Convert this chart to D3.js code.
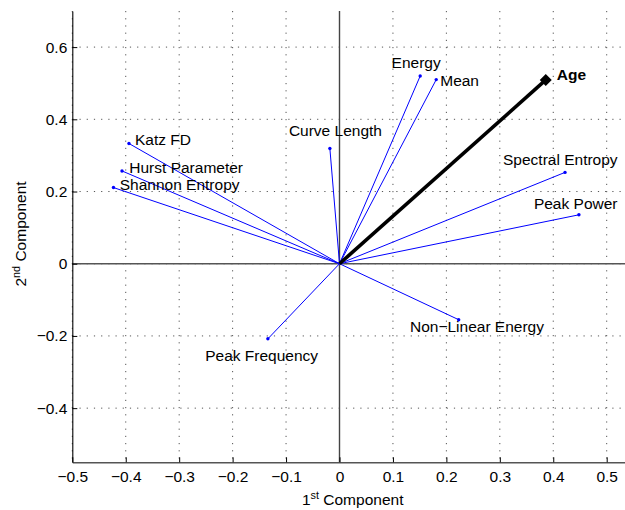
<!DOCTYPE html>
<html>
<head>
<meta charset="utf-8">
<script src="https://cdn.jsdelivr.net/npm/d3@7"></script>
<style>
  html, body { margin: 0; padding: 0; background: #fff; }
  svg { display: block; font-family: "Liberation Sans", Arial, Helvetica, sans-serif; }
</style>
</head>
<body>
<svg id="chart" width="625" height="510"></svg>
<script>
// ---- data ----
const variables = ["Age", "Energy", "Mean", "Curve Length", "Katz FD", "Hurst Parameter",
  "Shannon Entropy", "Spectral Entropy", "Peak Power", "Non\u2212Linear Energy", "Peak Frequency"];
const component1 = [0.386, 0.151, 0.181, -0.018, -0.394, -0.407, -0.423, 0.422, 0.448, 0.223, -0.134];
const component2 = [0.509, 0.520, 0.510, 0.319, 0.333, 0.257, 0.211, 0.253, 0.1355, -0.155, -0.208];
const highlighted = ["Age"];
const xTickValues = [-0.5, -0.4, -0.3, -0.2, -0.1, 0, 0.1, 0.2, 0.3, 0.4, 0.5];
const yTickValues = [-0.4, -0.2, 0, 0.2, 0.4, 0.6];
const xDomain = [-0.5, 0.55];
const yDomain = [-0.55, 0.7];

// ---- layout (label offsets in px from each point) ----
const labelOffset = {
  "Age": [11, 0],
  "Energy": [-28.6, -8],
  "Mean": [4, 6],
  "Curve Length": [-41, -12.7],
  "Katz FD": [6, 1.5],
  "Hurst Parameter": [7.3, 2.0],
  "Shannon Entropy": [6.3, 2.6],
  "Spectral Entropy": [-62, -7],
  "Peak Power": [-45, -6],
  "Non\u2212Linear Energy": [-48.7, 12.3],
  "Peak Frequency": [-62.7, 21.7]
};

const svg = d3.select("#chart");
const plotLeft = 72.3, plotTop = 11, plotBottom = 462.3;
const x = d3.scaleLinear().domain(xDomain).range([plotLeft, plotLeft + 1.05 * 534.4]);
const y = d3.scaleLinear().domain(yDomain).range([plotBottom, plotTop]);
const fs = 15.5;
const fmt = v => (v < 0 ? "\u2212" : "") + (Math.abs(v) < 1e-9 ? "0" : d3.format(".1f")(Math.abs(v)));

const g = svg.append("g");

// grid
g.append("g").selectAll("line").data(xTickValues).join("line")
  .attr("x1", d => x(d)).attr("x2", d => x(d))
  .attr("y1", plotTop).attr("y2", plotBottom)
  .attr("stroke", "#555").attr("stroke-width", 1).attr("stroke-dasharray", "1.2,6");
g.append("g").selectAll("line").data(yTickValues).join("line")
  .attr("x1", plotLeft).attr("x2", x(xDomain[1]))
  .attr("y1", d => y(d)).attr("y2", d => y(d))
  .attr("stroke", "#555").attr("stroke-width", 1).attr("stroke-dasharray", "1.2,6");

// zero lines
g.append("line").attr("x1", x(0)).attr("x2", x(0)).attr("y1", plotTop).attr("y2", plotBottom)
  .attr("stroke", "#444").attr("stroke-width", 1.4);
g.append("line").attr("x1", plotLeft).attr("x2", x(xDomain[1])).attr("y1", y(0)).attr("y2", y(0))
  .attr("stroke", "#555").attr("stroke-width", 1.6);

// axes
const xAxis = d3.axisBottom(x).tickValues(xTickValues).tickSizeInner(-5).tickSizeOuter(0)
  .tickPadding(8.6).tickFormat(fmt);
const yAxis = d3.axisLeft(y).tickValues(yTickValues).tickSizeInner(-5).tickSizeOuter(0)
  .tickPadding(5).tickFormat(fmt);

const gx = g.append("g").attr("transform", `translate(0,${plotBottom})`).call(xAxis);
const gy = g.append("g").attr("transform", `translate(${plotLeft},0)`).call(yAxis);
[gx, gy].forEach(a => {
  a.selectAll("text").attr("font-size", fs).attr("fill", "#000")
    .attr("font-family", "'Liberation Sans', Arial, sans-serif");
  a.selectAll("line").attr("stroke", "#000");
});
gx.select(".domain").attr("stroke", "#555").attr("stroke-width", 1.6);
gy.select(".domain").attr("stroke", "#000").attr("stroke-width", 1.1);

// vectors
const rows = variables.map((n, i) => ({ name: n, c1: component1[i], c2: component2[i], hi: highlighted.includes(n) }));

g.append("g").selectAll("line").data(rows.filter(d => !d.hi)).join("line")
  .attr("x1", x(0)).attr("y1", y(0))
  .attr("x2", d => x(d.c1)).attr("y2", d => y(d.c2))
  .attr("stroke", "#0000ff").attr("stroke-width", 1);
g.append("g").selectAll("circle").data(rows.filter(d => !d.hi)).join("circle")
  .attr("cx", d => x(d.c1)).attr("cy", d => y(d.c2)).attr("r", 1.7)
  .attr("fill", "#0000ff");

const hiRows = rows.filter(d => d.hi);
g.append("g").selectAll("line").data(hiRows).join("line")
  .attr("x1", x(0)).attr("y1", y(0))
  .attr("x2", d => x(d.c1)).attr("y2", d => y(d.c2))
  .attr("stroke", "#000").attr("stroke-width", 3.6);
g.append("g").selectAll("path").data(hiRows).join("path")
  .attr("d", d => {
    const cx = x(d.c1), cy = y(d.c2), s = 6;
    return `M${cx},${cy - s}L${cx + s},${cy}L${cx},${cy + s}L${cx - s},${cy}Z`;
  })
  .attr("fill", "#000");

// labels
g.append("g").selectAll("text").data(rows).join("text")
  .attr("x", d => x(d.c1) + labelOffset[d.name][0])
  .attr("y", d => y(d.c2) + labelOffset[d.name][1])
  .attr("font-size", fs)
  .attr("font-weight", d => d.hi ? "bold" : "normal")
  .attr("fill", "#000")
  .text(d => d.name);

// axis titles
const xt = svg.append("text").attr("x", 352.7).attr("y", 505)
  .attr("text-anchor", "middle").attr("font-size", fs).attr("fill", "#000");
xt.append("tspan").text("1");
xt.append("tspan").attr("font-size", fs * 0.7).attr("dy", -6).text("st");
xt.append("tspan").attr("dy", 6).text(" Component");

const yt = svg.append("text").attr("transform", "translate(26,234) rotate(-90)")
  .attr("text-anchor", "middle").attr("font-size", fs).attr("fill", "#000");
yt.append("tspan").text("2");
yt.append("tspan").attr("font-size", fs * 0.7).attr("dy", -6).text("nd");
yt.append("tspan").attr("dy", 6).text(" Component");
</script>
</body>
</html>
